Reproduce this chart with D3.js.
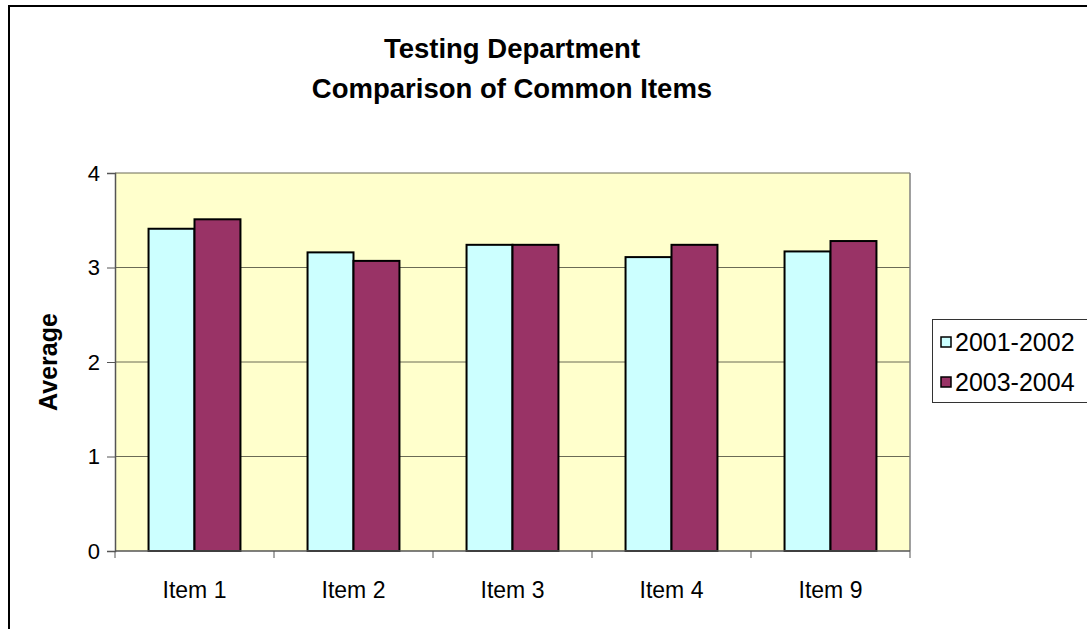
<!DOCTYPE html>
<html>
<head>
<meta charset="utf-8">
<script src="https://cdn.jsdelivr.net/npm/d3@7"></script>
<style>
  body { margin: 0; background: #fff; }
  svg text { font-family: Arial, "Liberation Sans", sans-serif; fill: #000; }
</style>
</head>
<body>
<div id="chart"></div>
<script>
'use strict';

const categories = ["Item 1", "Item 2", "Item 3", "Item 4", "Item 9"];
const series_names = ["2001-2002", "2003-2004"];
const values_2001 = [3.41, 3.16, 3.24, 3.11, 3.17];
const values_2003 = [3.51, 3.07, 3.24, 3.24, 3.28];
const y_ticks = [0, 1, 2, 3, 4];
const colors = ["#CCFFFF", "#993366"];

let dim = {
    width: 1087,
    height: 629,
    left: 115,
    right: 910,
    top: 173,
    bottom: 551
};

let svg = d3.select('#chart')
    .append('svg')
    .attr('width', dim.width)
    .attr('height', dim.height);

// outer chart border (runs off the picture on right and bottom)
svg.append('rect')
    .attr('x', 9)
    .attr('y', 6)
    .attr('width', 1200)
    .attr('height', 800)
    .attr('fill', '#fff')
    .attr('stroke', '#000')
    .attr('stroke-width', 2);

// title
let title = svg.append('text')
    .attr('text-anchor', 'middle')
    .style('font-size', '27.5px')
    .style('font-weight', 'bold');
title.append('tspan').attr('x', 512).attr('y', 58).text('Testing Department');
title.append('tspan').attr('x', 512).attr('y', 98).text('Comparison of Common Items');

const yScale = d3.scaleLinear()
    .domain([0, 4])
    .range([dim.bottom, dim.top]);

const xScale = d3.scaleBand()
    .domain(categories)
    .range([dim.left, dim.right]);

const innerScale = d3.scaleBand()
    .domain(series_names)
    .range([0, xScale.bandwidth()])
    .paddingOuter(0.73)
    .paddingInner(0);

// plot background
svg.append('rect')
    .attr('x', dim.left)
    .attr('y', dim.top)
    .attr('width', dim.right - dim.left)
    .attr('height', dim.bottom - dim.top)
    .attr('fill', '#FFFFCC');

// gridlines
svg.append('g')
    .selectAll('line')
    .data(y_ticks.filter(t => t > 0))
    .enter()
    .append('line')
    .attr('x1', dim.left)
    .attr('x2', dim.right)
    .attr('y1', d => yScale(d))
    .attr('y2', d => yScale(d))
    .attr('stroke', '#6b6b55')
    .attr('stroke-width', 1);

// plot right border
svg.append('line')
    .attr('x1', dim.right).attr('x2', dim.right)
    .attr('y1', dim.top).attr('y2', dim.bottom)
    .attr('stroke', '#808080')
    .attr('stroke-width', 1.5);

// bars
let dataset = categories.map((c, i) => ({
    name: c,
    vals: [
        { series: series_names[0], value: values_2001[i] },
        { series: series_names[1], value: values_2003[i] }
    ]
}));

let groups = svg.append('g')
    .selectAll('g')
    .data(dataset)
    .enter()
    .append('g')
    .attr('transform', d => 'translate(' + xScale(d.name) + ',0)');

groups.selectAll('rect')
    .data(d => d.vals)
    .enter()
    .append('rect')
    .attr('x', d => innerScale(d.series))
    .attr('y', d => yScale(d.value))
    .attr('width', innerScale.bandwidth())
    .attr('height', d => yScale(0) - yScale(d.value))
    .attr('fill', (d, i) => colors[i])
    .attr('stroke', '#000')
    .attr('stroke-width', 2);

// y axis
let yAxis = svg.append('g')
    .attr('transform', 'translate(' + dim.left + ',0)')
    .call(d3.axisLeft(yScale).tickValues(y_ticks).tickFormat(d3.format('d')).tickSize(8).tickPadding(7));
yAxis.select('.domain').attr('stroke', '#555').attr('stroke-width', 1.5);
yAxis.selectAll('.tick line').attr('stroke', '#555');
yAxis.selectAll('text').style('font-size', '22px');

// x axis
let xAxis = svg.append('g')
    .attr('transform', 'translate(0,' + dim.bottom + ')');
xAxis.append('line')
    .attr('x1', dim.left).attr('x2', dim.right)
    .attr('y1', 0).attr('y2', 0)
    .attr('stroke', '#555')
    .attr('stroke-width', 1.5);
xAxis.selectAll('.xtick')
    .data(categories.concat(['end']))
    .enter()
    .append('line')
    .attr('x1', (d, i) => i < categories.length ? xScale(d) : dim.right)
    .attr('x2', (d, i) => i < categories.length ? xScale(d) : dim.right)
    .attr('y1', 0)
    .attr('y2', 7)
    .attr('stroke', '#555');
xAxis.selectAll('.xlabel')
    .data(categories)
    .enter()
    .append('text')
    .attr('x', d => xScale(d) + xScale.bandwidth() / 2)
    .attr('y', 47)
    .attr('text-anchor', 'middle')
    .style('font-size', '23px')
    .text(d => d);

// y axis title
svg.append('text')
    .attr('transform', 'translate(57,' + ((dim.top + dim.bottom) / 2) + ') rotate(-90)')
    .attr('text-anchor', 'middle')
    .style('font-size', '25px')
    .style('font-weight', 'bold')
    .text('Average');

// legend
let legend = svg.append('g');
legend.append('rect')
    .attr('x', 932.5)
    .attr('y', 319.5)
    .attr('width', 200)
    .attr('height', 83)
    .attr('fill', '#fff')
    .attr('stroke', '#333')
    .attr('stroke-width', 1);

let items = legend.selectAll('.leg')
    .data(series_names)
    .enter()
    .append('g')
    .attr('transform', (d, i) => 'translate(941,' + (342 + i * 40) + ')');
items.append('rect')
    .attr('x', 0)
    .attr('y', -5)
    .attr('width', 10)
    .attr('height', 10)
    .attr('fill', (d, i) => colors[i])
    .attr('stroke', '#000')
    .attr('stroke-width', 1.5);
items.append('text')
    .attr('x', 14)
    .attr('y', 9)
    .style('font-size', '25px')
    .text(d => d);
</script>
</body>
</html>
